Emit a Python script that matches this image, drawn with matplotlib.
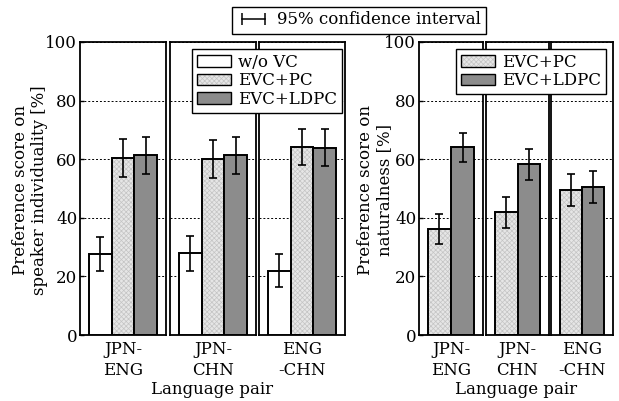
import matplotlib
matplotlib.use('Agg')
import matplotlib.pyplot as plt
from matplotlib.patches import Patch
from matplotlib.lines import Line2D

plt.rcParams['font.family'] = ['DejaVu Serif']
plt.rcParams['font.size'] = 12
plt.rcParams['hatch.linewidth'] = 0.5

pairs = ['JPN-\nENG', 'JPN-\nCHN', 'ENG\n-CHN']

# speaker individuality (left)
ind_wo = [27.5, 27.9, 22.0]
ind_wo_err = [5.8, 6.0, 5.7]
ind_pc = [60.5, 60.0, 64.2]
ind_pc_err = [6.5, 6.4, 6.2]
ind_ldpc = [61.3, 61.3, 63.9]
ind_ldpc_err = [6.3, 6.3, 6.3]

# naturalness (right)
nat_pc = [36.1, 41.9, 49.5]
nat_pc_err = [5.1, 5.3, 5.4]
nat_ldpc = [64.0, 58.2, 50.6]
nat_ldpc_err = [5.1, 5.2, 5.5]

W, H = 619, 401
fig = plt.figure(figsize=(W / 100, H / 100), dpi=100)

y0 = 1 - 335 / H
hgt = (335 - 42) / H
left_x = [(80, 166), (170, 256), (259, 345)]
right_x = [(419, 483), (486, 549), (551, 613)]

LW = 1.4
PC_FACE = '#e6e6e6'
PC_HATCH = '#c4c4c4'
WHITE = dict(facecolor='white', edgecolor='black', linewidth=LW)
DARK = dict(facecolor='#8c8c8c', edgecolor='black', linewidth=LW)


def pc_bar(ax, x, h):
    ax.bar(x, h, width=1, facecolor=PC_FACE, edgecolor=PC_HATCH,
           hatch='xxxxxxx', linewidth=0, zorder=2)
    ax.bar(x, h, width=1, fill=False, edgecolor='black', linewidth=LW, zorder=3)


def style(ax, first):
    ax.set_ylim(0, 100)
    ax.set_yticks([0, 20, 40, 60, 80, 100])
    ax.yaxis.grid(True, linestyle=(0, (2, 2)), color='black', linewidth=0.7, zorder=0)
    ax.set_axisbelow(True)
    for s in ax.spines.values():
        s.set_linewidth(1.3)
    ax.tick_params(axis='x', length=0, pad=4)
    if first:
        ax.tick_params(axis='y', direction='in', length=3, width=1, pad=2)
    else:
        ax.tick_params(axis='y', left=False, labelleft=False)


err_kw = dict(ecolor='black', elinewidth=1.2, capsize=2.8, capthick=1.2)

for i, (a, b) in enumerate(left_x):
    ax = fig.add_axes([a / W, y0, (b - a) / W, hgt])
    ax.bar(0, ind_wo[i], width=1, yerr=ind_wo_err[i], zorder=3, error_kw=err_kw, **WHITE)
    pc_bar(ax, 1, ind_pc[i])
    ax.errorbar(1, ind_pc[i], yerr=ind_pc_err[i], fmt='none', zorder=4, **err_kw)
    ax.bar(2, ind_ldpc[i], width=1, yerr=ind_ldpc_err[i], zorder=3, error_kw=err_kw, **DARK)
    ax.set_xlim(-0.87, 2.87)
    ax.set_xticks([1])
    ax.set_xticklabels([pairs[i]], linespacing=1.35)
    style(ax, i == 0)

for i, (a, b) in enumerate(right_x):
    ax = fig.add_axes([a / W, y0, (b - a) / W, hgt])
    pc_bar(ax, 0, nat_pc[i])
    ax.errorbar(0, nat_pc[i], yerr=nat_pc_err[i], fmt='none', zorder=4, **err_kw)
    ax.bar(1, nat_ldpc[i], width=1, yerr=nat_ldpc_err[i], zorder=3, error_kw=err_kw, **DARK)
    ax.set_xlim(-0.89, 1.89)
    ax.set_xticks([0.5])
    ax.set_xticklabels([pairs[i]], linespacing=1.35)
    style(ax, i == 0)

fig.text(30 / W, 1 - 190 / H, 'Preference score on\nspeaker individuality [%]',
         rotation=90, ha='center', va='center', linespacing=1.15)
fig.text(375 / W, 1 - 190 / H, 'Preference score on\nnaturalness [%]',
         rotation=90, ha='center', va='center', linespacing=1.15)
fig.text(212 / W, 1 - 390 / H, 'Language pair', ha='center', va='center')
fig.text(516 / W, 1 - 390 / H, 'Language pair', ha='center', va='center')

h_wo = Patch(facecolor='white', edgecolor='black', linewidth=1.0)
h_pc = (Patch(facecolor=PC_FACE, edgecolor=PC_HATCH, hatch='xxxxxxx', linewidth=0),
        Patch(fill=False, edgecolor='black', linewidth=1.0))
h_ld = Patch(facecolor='#8c8c8c', edgecolor='black', linewidth=1.0)

leg_kw = dict(fancybox=False, framealpha=1, edgecolor='black', borderpad=0.3,
              labelspacing=0.08, handlelength=2.0, handletextpad=0.45, borderaxespad=0)

lg1 = fig.legend([h_wo, h_pc, h_ld], ['w/o VC', 'EVC+PC', 'EVC+LDPC'],
                 loc='upper right', bbox_to_anchor=(342 / W, 1 - 49 / H), **leg_kw)
lg1.get_frame().set_linewidth(1.0)
lg2 = fig.legend([h_pc, h_ld], ['EVC+PC', 'EVC+LDPC'],
                 loc='upper right', bbox_to_anchor=(606 / W, 1 - 49 / H), **leg_kw)
lg2.get_frame().set_linewidth(1.0)

ci = Line2D([0], [0], color='black', linewidth=1.1, marker='|', markersize=8,
            markeredgewidth=1.1)
lg3 = fig.legend([ci], ['95% confidence interval'], numpoints=2,
                 loc='center', bbox_to_anchor=(359 / W, 1 - 20 / H), **leg_kw)
lg3.get_frame().set_linewidth(1.0)

fig.savefig('out.png', dpi=100)
